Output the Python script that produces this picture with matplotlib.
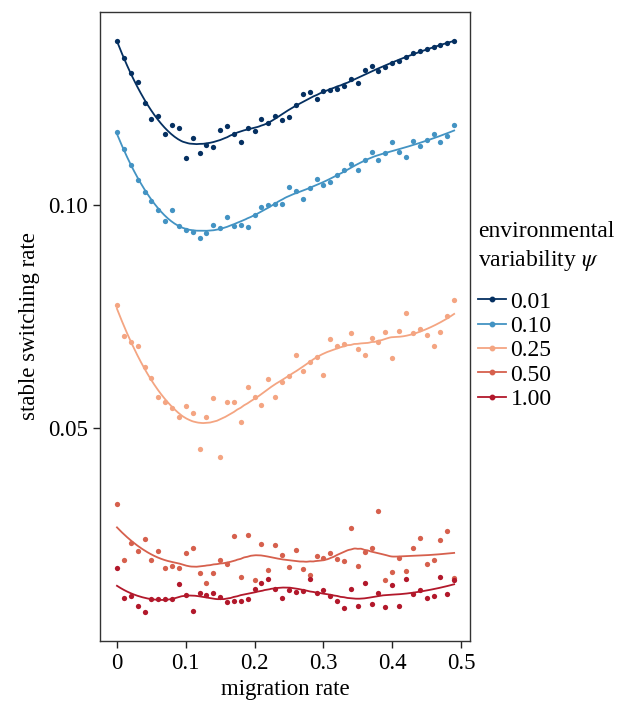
import numpy as np
import matplotlib
matplotlib.use("Agg")
import matplotlib.pyplot as plt
from matplotlib.lines import Line2D

plt.rcParams['font.family'] = ['Liberation Serif', 'DejaVu Serif']
plt.rcParams['mathtext.fontset'] = 'stix'

migration = np.round(np.arange(50) * 0.01, 2)

psi_labels = ["0.01", "0.10", "0.25", "0.50", "1.00"]
colors = ["#053061", "#4393C3", "#F4A582", "#D6604D", "#B2182B"]

rate_001 = [0.1367, 0.1329, 0.1297, 0.1275, 0.1230, 0.1193, 0.1199, 0.1159, 0.1179, 0.1173,
            0.1105, 0.1150, 0.1116, 0.1135, 0.1131, 0.1168, 0.1178, 0.1159, 0.1141, 0.1173,
            0.1166, 0.1192, 0.1185, 0.1200, 0.1191, 0.1197, 0.1224, 0.1250, 0.1253, 0.1237,
            0.1256, 0.1259, 0.1260, 0.1267, 0.1282, 0.1274, 0.1303, 0.1313, 0.1300, 0.1309,
            0.1318, 0.1324, 0.1332, 0.1340, 0.1346, 0.1350, 0.1354, 0.1359, 0.1364, 0.1367]
rate_010 = [0.1164, 0.1126, 0.1090, 0.1056, 0.1029, 0.1010, 0.0988, 0.0965, 0.0988, 0.0954,
            0.0944, 0.0939, 0.0927, 0.0937, 0.0955, 0.0949, 0.0974, 0.0952, 0.0956, 0.0951,
            0.0978, 0.0996, 0.1001, 0.1002, 0.1002, 0.1040, 0.1031, 0.1013, 0.1038, 0.1059,
            0.1046, 0.1051, 0.1067, 0.1078, 0.1093, 0.1078, 0.1100, 0.1120, 0.1102, 0.1117,
            0.1142, 0.1120, 0.1108, 0.1143, 0.1132, 0.1146, 0.1159, 0.1141, 0.1155, 0.1179]
rate_025 = [0.0776, 0.0707, 0.0694, 0.0683, 0.0636, 0.0613, 0.0570, 0.0559, 0.0546, 0.0524,
            0.0550, 0.0534, 0.0454, 0.0525, 0.0568, 0.0436, 0.0558, 0.0558, 0.0513, 0.0593,
            0.0569, 0.0552, 0.0611, 0.0570, 0.0603, 0.0617, 0.0664, 0.0629, 0.0649, 0.0659,
            0.0620, 0.0700, 0.0685, 0.0688, 0.0714, 0.0678, 0.0664, 0.0702, 0.0692, 0.0715,
            0.0656, 0.0717, 0.0757, 0.0714, 0.0721, 0.0708, 0.0684, 0.0715, 0.0751, 0.0787]
rate_050 = [0.0329, 0.0203, 0.0242, 0.0224, 0.0251, 0.0203, 0.0224, 0.0185, 0.0190, 0.0187,
            0.0219, 0.0230, 0.0176, 0.0153, 0.0175, 0.0203, 0.0195, 0.0257, 0.0165, 0.0260,
            0.0160, 0.0239, 0.0182, 0.0238, 0.0216, 0.0188, 0.0226, 0.0184, 0.0170, 0.0212,
            0.0209, 0.0220, 0.0206, 0.0202, 0.0275, 0.0191, 0.0221, 0.0231, 0.0313, 0.0160,
            0.0178, 0.0209, 0.0179, 0.0232, 0.0253, 0.0195, 0.0205, 0.0248, 0.0268, 0.0164]
rate_100 = [0.0187, 0.0119, 0.0123, 0.0100, 0.0088, 0.0117, 0.0116, 0.0117, 0.0117, 0.0150,
            0.0125, 0.0090, 0.0129, 0.0126, 0.0131, 0.0120, 0.0110, 0.0112, 0.0112, 0.0117,
            0.0138, 0.0153, 0.0162, 0.0140, 0.0119, 0.0136, 0.0132, 0.0135, 0.0162, 0.0129,
            0.0136, 0.0123, 0.0111, 0.0097, 0.0140, 0.0100, 0.0153, 0.0105, 0.0131, 0.0099,
            0.0147, 0.0102, 0.0162, 0.0127, 0.0137, 0.0119, 0.0123, 0.0167, 0.0128, 0.0159]

series = [rate_001, rate_010, rate_025, rate_050, rate_100]


def loess(x, y, xs, span=0.4, degree=2):
    x = np.asarray(x, float)
    y = np.asarray(y, float)
    q = int(np.floor(span * len(x)))
    out = []
    for x0 in xs:
        d = np.abs(x - x0)
        h = np.sort(d)[q - 1] * 1.0001
        w = np.clip(1 - (d / h) ** 3, 0, None) ** 3
        m = w > 0
        coef = np.polyfit(x[m] - x0, y[m], degree, w=np.sqrt(w[m]))
        out.append(coef[-1])
    return np.array(out)


fig = plt.figure(figsize=(6.3, 7.02), dpi=100)
ax = fig.add_axes([0.1587, 0.0869, 0.746 - 0.1587, 0.9829 - 0.0869])

xs = np.linspace(migration.min(), migration.max(), 200)
handles = []
for vals, col, lab in zip(series, colors, psi_labels):
    ax.plot(migration, vals, 'o', color=col, markersize=3.8, markeredgewidth=0)
    ax.plot(xs, loess(migration, vals, xs, span=0.4), '-', color=col, lw=1.3)
    handles.append(Line2D([], [], color=col, lw=1.3, marker='o', markersize=3.2, label=lab))

ax.set_xlim(-0.0247, 0.513)
ax.set_ylim(0.00224, 0.1433)
ax.set_xticks([0, 0.1, 0.2, 0.3, 0.4, 0.5])
ax.set_xticklabels(["0", "0.1", "0.2", "0.3", "0.4", "0.5"])
ax.set_yticks([0.05, 0.10])
ax.set_yticklabels(["0.05", "0.10"])
ax.tick_params(direction='out', length=5, width=1, colors='#222222', labelsize=16.5, labelcolor='black')
for s in ax.spines.values():
    s.set_color('#333333')
    s.set_linewidth(1)
ax.set_xlabel("migration rate", fontsize=16.5, labelpad=4)
ax.set_ylabel("stable switching rate", fontsize=16.5, labelpad=6)

fig.text(0.759, 1 - 247 / 702, "environmental\nvariability $\\psi$", fontsize=17,
         ha='left', va='center', linespacing=1.35)
fig.legend(handles=handles, loc='upper left', bbox_to_anchor=(0.758, 1 - 291 / 702),
           frameon=False, fontsize=17, handlelength=1.2, handletextpad=0.2,
           labelspacing=0.12, borderpad=0, borderaxespad=0)

fig.savefig("out.png", dpi=100)
